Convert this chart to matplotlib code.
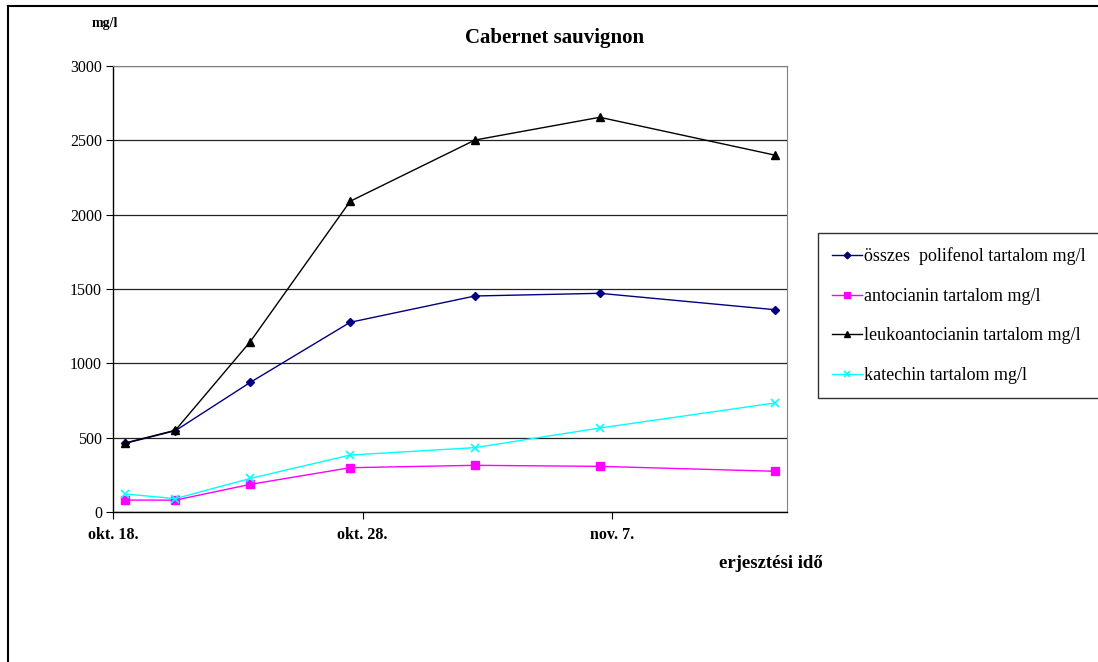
import numpy as np
import matplotlib.pyplot as plt
from matplotlib.lines import Line2D

plt.rcParams['font.family'] = ['Liberation Serif', 'DejaVu Serif']

# Mintavételi napok (okt. 18. = 0)
napok = np.array([0, 2, 5, 9, 14, 19, 26])
datum_tickek = [0, 10, 20]
datum_cimkek = ['okt. 18.', 'okt. 28.', 'nov. 7.']

polifenol = [462, 547, 872, 1276, 1453, 1471, 1361]
antocianin = [80, 80, 186, 298, 314, 307, 274]
leukoantocianin = [465, 550, 1146, 2090, 2502, 2655, 2401]
katechin = [121, 90, 226, 383, 433, 565, 733]

fig = plt.figure(figsize=(10.98, 6.62), dpi=100)
ax = fig.add_axes([113 / 1098, 1 - 512 / 662, (787 - 113) / 1098, (512 - 66) / 662])

# a pontok a nap közepére esnek
x = napok + 0.5
ax.plot(x, polifenol, color='#000080', lw=1, marker='D', ms=4.5,
        label='összes  polifenol tartalom mg/l')
ax.plot(x, antocianin, color='#FF00FF', lw=1, marker='s', ms=6,
        label='antocianin tartalom mg/l')
ax.plot(x, leukoantocianin, color='black', lw=1, marker='^', ms=6,
        label='leukoantocianin tartalom mg/l')
ax.plot(x, katechin, color='#00FFFF', lw=1, marker='x', ms=6, mew=1.2,
        label='katechin tartalom mg/l')

ax.set_xlim(0, 27)
ax.set_ylim(0, 3000)
ax.set_yticks(np.arange(0, 3001, 500))
ax.set_xticks(datum_tickek)
ax.set_xticklabels(datum_cimkek, fontweight='bold', fontsize=11.5)
ax.tick_params(axis='y', labelsize=11.5, length=5, width=0.8, direction='out', pad=3)
ax.tick_params(axis='x', length=5, width=0.8, direction='out', pad=6)
ax.yaxis.grid(True, color='#222222', lw=0.9)
ax.set_axisbelow(True)

for s in ['left', 'bottom']:
    ax.spines[s].set_color('black')
    ax.spines[s].set_linewidth(1)
ax.spines['right'].set_color('#808080')
ax.spines['top'].set_color('#808080')

fig.text(555 / 1098, 1 - 38 / 662, 'Cabernet sauvignon', ha='center', va='center',
         fontsize=15, fontweight='bold')
fig.text(105 / 1098, 1 - 23 / 662, 'mg/l', ha='center', va='center',
         fontsize=10, fontweight='bold')
fig.text(771 / 1098, 1 - 563 / 662, 'erjesztési idő', ha='center', va='center',
         fontsize=13.5, fontweight='bold')

leg = ax.legend(loc='upper left', bbox_to_anchor=(818 / 1098, 1 - 233 / 662),
                bbox_transform=fig.transFigure, fontsize=13, frameon=True,
                fancybox=False, edgecolor='black', labelspacing=1.25,
                handlelength=1.65, handletextpad=0.1, borderpad=0.8,
                borderaxespad=0, markerscale=0.75)
leg.get_frame().set_linewidth(1)

# keret a diagram körül
fig.add_artist(Line2D([8 / 1098, 8 / 1098], [0, 1 - 6 / 662], color='black', lw=1.5))
fig.add_artist(Line2D([8 / 1098, 1], [1 - 6 / 662, 1 - 6 / 662], color='black', lw=1.5))

fig.savefig('out.png', dpi=100)
